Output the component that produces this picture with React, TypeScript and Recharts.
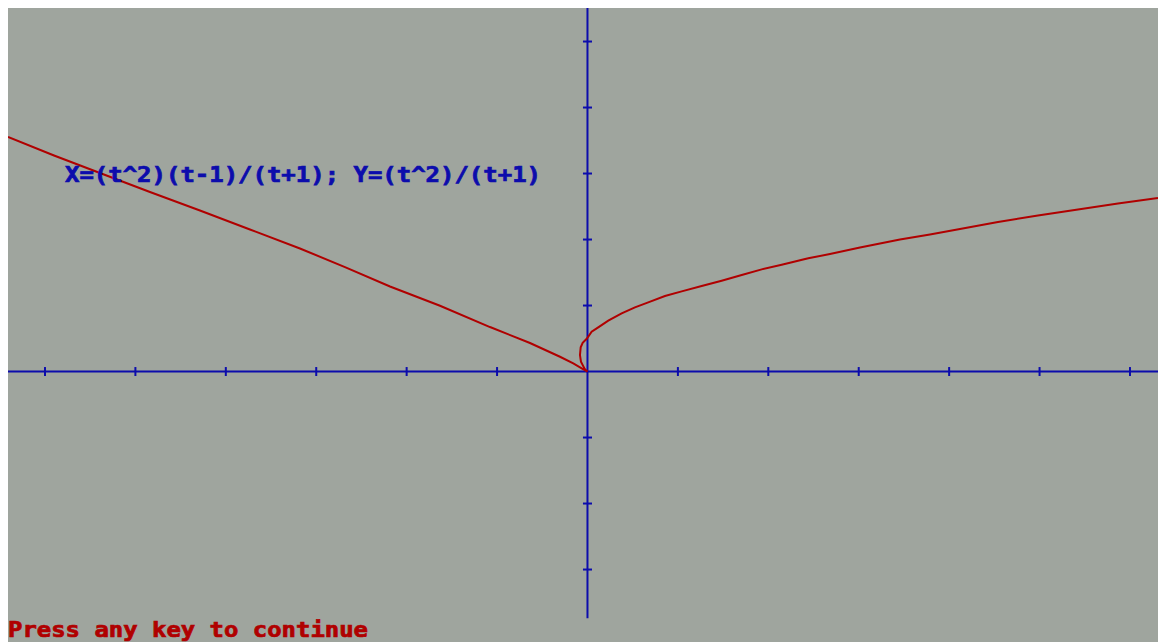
import React from "react";
import { ComposedChart, Line, XAxis, YAxis, ReferenceLine } from "recharts";

// Parametric curve X=(t^2)(t-1)/(t+1); Y=(t^2)/(t+1) (axis units)
const curveX = [
  -6.409, -5.9, -5.392, -4.839, -4.286, -3.733, -3.18, -2.682, -2.184, -1.631,
  -1.078, -0.636, -0.304, -0.157, -0.064, 0,
  -0.028, -0.072, -0.083, -0.075, -0.053, -0.006, 0.046, 0.119, 0.23, 0.378,
  0.525, 0.672, 0.857, 1.042, 1.263, 1.484, 1.706, 1.927, 2.148, 2.442,
  2.682, 3.014, 3.456, 3.788, 4.12, 4.54, 4.982, 5.425, 5.867, 6.31,
];
const curveY = [
  3.553, 3.273, 3.008, 2.72, 2.439, 2.152, 1.864, 1.583, 1.288, 0.997,
  0.674, 0.432, 0.224, 0.124, 0.048, 0,
  0.033, 0.148, 0.25, 0.367, 0.436, 0.5, 0.603, 0.67, 0.77, 0.882,
  0.973, 1.048, 1.144, 1.215, 1.295, 1.376, 1.462, 1.548, 1.618, 1.715,
  1.78, 1.879, 2.0, 2.076, 2.159, 2.265, 2.364, 2.455, 2.545, 2.629,
];

const xTicks = [-6, -5, -4, -3, -2, -1, 1, 2, 3, 4, 5, 6];
const yTicks = [-3, -2, -1, 1, 2, 3, 4, 5];

const xDomain: [number, number] = [-6.409, 6.31];
const yDomain: [number, number] = [-4.098, 5.508];
const yAxisBottom = -3.74;

const titleText = "X=(t^2)(t-1)/(t+1); Y=(t^2)/(t+1)";
const footerText = "Press any key to continue";

const BLUE = "#0c0cac";
const RED = "#b00000";
const BG = "#9fa59e";

const curve = curveX.map((x, i) => ({ x, y: curveY[i] }));

export default function App() {
  const W = 1150;
  const H = 634;
  const tx = 0.05;
  const ty = 0.068;
  return (
    <div
      style={{
        position: "relative",
        width: W,
        height: H,
        background: BG,
        overflow: "hidden",
      }}
    >
      <style>{"html,body{margin:0;padding:0;}body{margin:8px 0 0 8px;}#root{width:1150px;height:634px;}"}</style>
      <ComposedChart
        width={W}
        height={H}
        data={curve}
        margin={{ top: 0, right: 0, bottom: 0, left: 0 }}
      >
        <XAxis type="number" dataKey="x" domain={xDomain} hide allowDataOverflow />
        <YAxis type="number" dataKey="y" domain={yDomain} hide allowDataOverflow />
        <ReferenceLine y={0} stroke={BLUE} strokeWidth={2} />
        <ReferenceLine
          segment={[
            { x: 0, y: yAxisBottom },
            { x: 0, y: yDomain[1] },
          ]}
          stroke={BLUE}
          strokeWidth={2}
        />
        {xTicks.map((v) => (
          <ReferenceLine
            key={"xt" + v}
            segment={[
              { x: v, y: -ty },
              { x: v, y: ty },
            ]}
            stroke={BLUE}
            strokeWidth={2}
          />
        ))}
        {yTicks.map((v) => (
          <ReferenceLine
            key={"yt" + v}
            segment={[
              { x: -tx, y: v },
              { x: tx, y: v },
            ]}
            stroke={BLUE}
            strokeWidth={2}
          />
        ))}
        <Line
          type="linear"
          dataKey="y"
          stroke={RED}
          strokeWidth={2}
          dot={false}
          isAnimationActive={false}
        />
      </ComposedChart>
      <svg
        width={W}
        height={H}
        style={{ position: "absolute", left: 0, top: 0, pointerEvents: "none" }}
      >
        <text
          x={57}
          y={173.5}
          fill={BLUE}
          stroke={BLUE}
          strokeWidth={0.7}
          fontFamily="'DejaVu Sans Mono', monospace"
          fontWeight="bold"
          fontSize={20.5}
          textLength={476}
          lengthAdjust="spacingAndGlyphs"
        >
          {titleText}
        </text>
        <text
          x={0}
          y={628.5}
          fill={RED}
          stroke={RED}
          strokeWidth={0.7}
          fontFamily="'DejaVu Sans Mono', monospace"
          fontWeight="bold"
          fontSize={20.5}
          textLength={360}
          lengthAdjust="spacingAndGlyphs"
        >
          {footerText}
        </text>
      </svg>
    </div>
  );
}
